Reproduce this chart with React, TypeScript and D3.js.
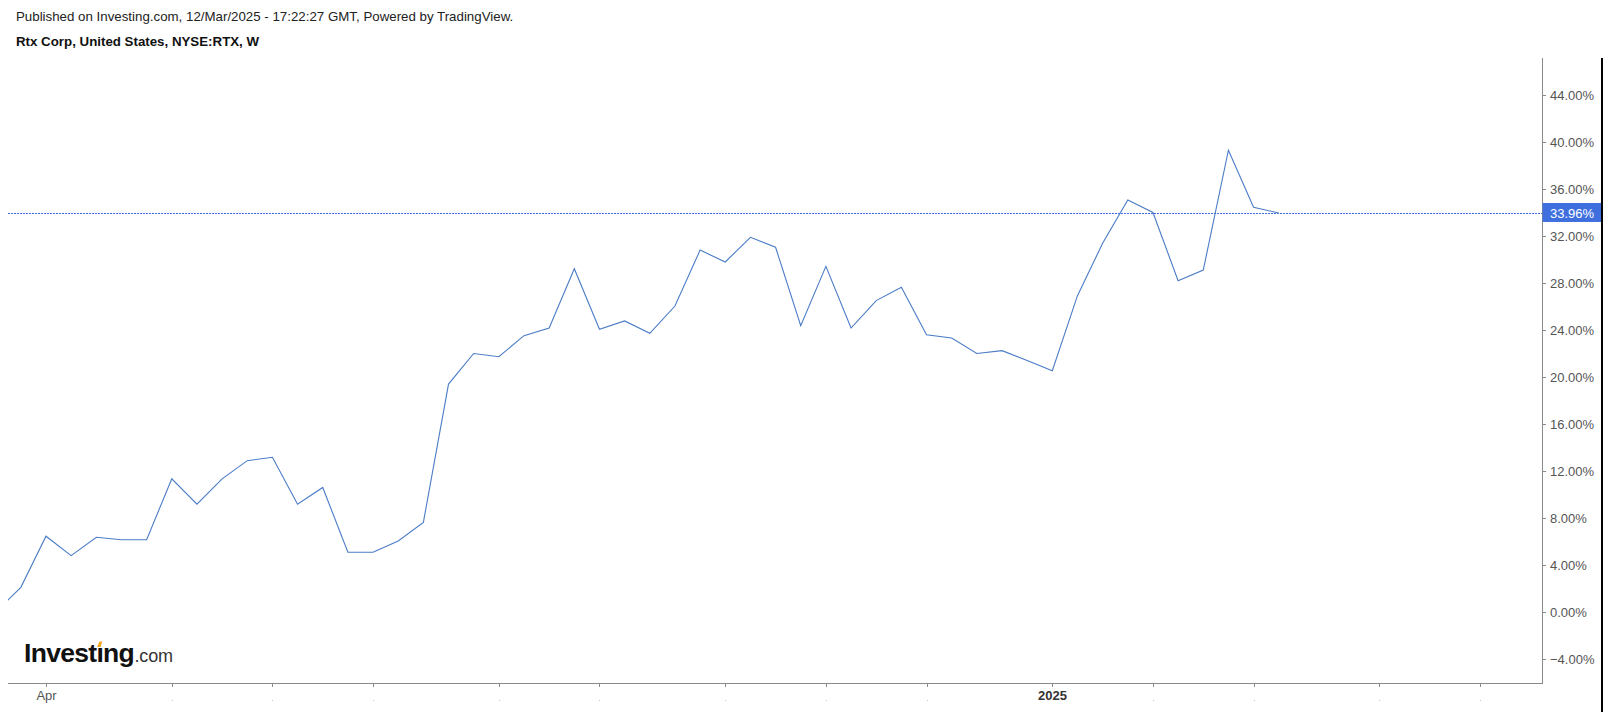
import React, { useEffect, useRef } from "react";
import * as d3 from "d3";

// ---- Data (weekly % change, NYSE:RTX, weeks starting Mon) ----
const startWeek = "2024-03-18";
const pctValues = [
  0, 2.1, 6.45, 4.8, 6.36, 6.15, 6.15, 11.34, 9.17, 11.33, 12.88, 13.17, 9.17, 10.6,
  5.08, 5.08, 6.04, 7.63, 19.4, 22.0, 21.73, 23.52, 24.17, 29.22, 24.06, 24.77, 23.72,
  26.04, 30.8, 29.79, 31.89, 31.04, 24.37, 29.42, 24.17, 26.5, 27.63, 23.6, 23.32, 22.0,
  22.24, 21.4, 20.54, 26.92, 31.38, 35.06, 34.0, 28.2, 29.1, 39.3, 34.44, 33.96,
];
const lastValue = 33.96;
const monthTickDates = [
  "2024-04-01", "2024-05-06", "2024-06-03", "2024-07-01", "2024-08-05", "2024-09-02",
  "2024-10-07", "2024-11-04", "2024-12-02", "2025-01-06", "2025-02-03", "2025-03-03",
  "2025-04-07", "2025-05-05",
];
const monthTickLabels = ["Apr", "", "", "", "", "", "", "", "", "2025", "", "", "", ""];
const yTickValues = [-4, 0, 4, 8, 12, 16, 20, 24, 28, 32, 36, 40, 44];
const headerLine1 = "Published on Investing.com, 12/Mar/2025 - 17:22:27 GMT, Powered by TradingView.";
const headerLine2 = "Rtx Corp, United States, NYSE:RTX, W";

const W = 1610;
const H = 712;
const FONT = "'Liberation Sans', Arial, sans-serif";

export default function App() {
  const ref = useRef<SVGSVGElement | null>(null);

  useEffect(() => {
    const svg = d3.select(ref.current);
    svg.selectAll("*").remove();

    const parse = d3.utcParse("%Y-%m-%d");
    const start = parse(startWeek) as Date;
    const weeks = pctValues.map((_, i) => d3.utcDay.offset(start, 7 * i));
    const data = pctValues.map((v, i) => ({ d: weeks[i], v }));

    const plotLeft = 8;
    const plotRight = 1542;
    const plotTop = 58;
    const plotBottom = 683;

    const x = d3
      .scaleUtc()
      .domain([parse("2024-04-01") as Date, parse("2025-05-05") as Date])
      .range([46, 1480]);
    const y = d3.scaleLinear().domain([-4, 44]).range([659, 95]);

    svg.append("rect").attr("width", W).attr("height", H).attr("fill", "#fff");

    // header
    svg
      .append("text")
      .attr("x", 16)
      .attr("y", 21)
      .attr("font-family", FONT)
      .attr("font-size", 13.3)
      .attr("fill", "#222")
      .text(headerLine1);
    svg
      .append("text")
      .attr("x", 16)
      .attr("y", 46)
      .attr("font-family", FONT)
      .attr("font-size", 13.3)
      .attr("font-weight", "bold")
      .attr("fill", "#111")
      .text(headerLine2);

    // clip
    svg
      .append("clipPath")
      .attr("id", "plotclip")
      .append("rect")
      .attr("x", plotLeft)
      .attr("y", plotTop)
      .attr("width", plotRight - plotLeft)
      .attr("height", plotBottom - plotTop);

    const g = svg.append("g").attr("clip-path", "url(#plotclip)");

    // last value dotted line
    g.append("line")
      .attr("x1", plotLeft)
      .attr("x2", plotRight)
      .attr("y1", Math.round(y(lastValue)) + 0.5)
      .attr("y2", Math.round(y(lastValue)) + 0.5)
      .attr("stroke", "#3f6fdf")
      .attr("stroke-width", 1)
      .attr("stroke-dasharray", "2,1");

    const line = d3
      .line<{ d: Date; v: number }>()
      .x((p) => x(p.d))
      .y((p) => y(p.v));

    g.append("path")
      .datum(data)
      .attr("d", line)
      .attr("fill", "none")
      .attr("stroke", "#4b7cc6")
      .attr("stroke-width", 1.1)
      .attr("stroke-linejoin", "miter");

    // axes lines
    svg
      .append("line")
      .attr("x1", plotLeft)
      .attr("x2", plotRight)
      .attr("y1", plotBottom + 0.5)
      .attr("y2", plotBottom + 0.5)
      .attr("stroke", "#8a8a8a")
      .attr("stroke-width", 1);
    svg
      .append("line")
      .attr("x1", plotRight + 0.5)
      .attr("x2", plotRight + 0.5)
      .attr("y1", plotTop)
      .attr("y2", plotBottom + 1)
      .attr("stroke", "#8a8a8a")
      .attr("stroke-width", 1);

    // right black border
    svg
      .append("line")
      .attr("x1", 1602)
      .attr("x2", 1602)
      .attr("y1", plotTop)
      .attr("y2", H)
      .attr("stroke", "#000")
      .attr("stroke-width", 2);

    // y ticks
    const yt = svg.append("g");
    yTickValues.forEach((v) => {
      const yy = Math.round(y(v)) + 0.5;
      yt.append("line")
        .attr("x1", plotRight)
        .attr("x2", plotRight + 4)
        .attr("y1", yy)
        .attr("y2", yy)
        .attr("stroke", "#8a8a8a");
      yt.append("text")
        .attr("x", 1550)
        .attr("y", yy)
        .attr("dy", "0.35em")
        .attr("font-family", FONT)
        .attr("font-size", 13)
        .attr("fill", "#555")
        .text(d3.format(".2f")(v) + "%");
    });

    // last value label
    const ly = y(lastValue);
    svg
      .append("rect")
      .attr("x", plotRight + 0.5)
      .attr("y", ly - 10)
      .attr("width", 1601 - plotRight - 0.5)
      .attr("height", 19)
      .attr("fill", "#3f6fdf");
    svg
      .append("text")
      .attr("x", 1550)
      .attr("y", ly)
      .attr("dy", "0.35em")
      .attr("font-family", FONT)
      .attr("font-size", 13)
      .attr("fill", "#fff")
      .text(d3.format(".2f")(lastValue) + "%");

    // x ticks
    const xt = svg.append("g");
    monthTickDates.forEach((ds, i) => {
      const xx = Math.round(x(parse(ds) as Date)) + 0.5;
      xt.append("line")
        .attr("x1", xx)
        .attr("x2", xx)
        .attr("y1", plotBottom)
        .attr("y2", plotBottom + 4)
        .attr("stroke", "#8a8a8a");
      const lab = monthTickLabels[i];
      if (lab) {
        xt.append("text")
          .attr("x", xx)
          .attr("y", 700)
          .attr("text-anchor", "middle")
          .attr("font-family", FONT)
          .attr("font-size", 13)
          .attr("font-weight", lab === "2025" ? "bold" : "normal")
          .attr("fill", lab === "2025" ? "#333" : "#555")
          .text(lab);
      } else {
        xt.append("rect")
          .attr("x", xx - 0.5)
          .attr("y", 700)
          .attr("width", 1)
          .attr("height", 1)
          .attr("fill", "#c8c8c8");
      }
    });

    // Investing.com logo
    const logo = svg.append("g");
    const baseX = 24;
    const baseY = 662;
    const fs = 26.5;
    const ls = -0.7;
    const t1 = logo
      .append("text")
      .attr("x", baseX)
      .attr("y", baseY)
      .attr("font-family", FONT)
      .attr("font-size", fs)
      .attr("font-weight", "bold")
      .attr("fill", "#111")
      .attr("letter-spacing", ls)
      .text("Invest");
    const w1 = (t1.node() as SVGTextElement).getComputedTextLength();
    const t2 = logo
      .append("text")
      .attr("x", baseX + w1)
      .attr("y", baseY)
      .attr("font-family", FONT)
      .attr("font-size", fs)
      .attr("font-weight", "bold")
      .attr("fill", "#111")
      .attr("letter-spacing", ls)
      .text("\u0131");
    const w2 = (t2.node() as SVGTextElement).getComputedTextLength();
    const t3 = logo
      .append("text")
      .attr("x", baseX + w1 + w2)
      .attr("y", baseY)
      .attr("font-family", FONT)
      .attr("font-size", fs)
      .attr("font-weight", "bold")
      .attr("fill", "#111")
      .attr("letter-spacing", ls)
      .text("ng");
    const w3 = (t3.node() as SVGTextElement).getComputedTextLength();
    logo
      .append("text")
      .attr("x", baseX + w1 + w2 + w3 + 0.5)
      .attr("y", baseY)
      .attr("font-family", FONT)
      .attr("font-size", 18)
      .attr("fill", "#333")
      .attr("letter-spacing", -0.2)
      .text(".com");
    const dotX = baseX + w1 + w2 / 2 - 0.5;
    logo
      .append("path")
      .attr(
        "d",
        `M${dotX - 2.2},${baseY - 15} L${dotX + 0.2},${baseY - 20.5} L${dotX + 2.9},${baseY - 20.5} L${dotX + 1.5},${baseY - 15} Z`
      )
      .attr("fill", "#f4a81d");
  }, []);

  return (
    <div style={{ position: "fixed", left: 0, top: 0, width: W, height: H, background: "#fff" }}>
      <svg ref={ref} width={W} height={H} style={{ display: "block" }} />
    </div>
  );
}
